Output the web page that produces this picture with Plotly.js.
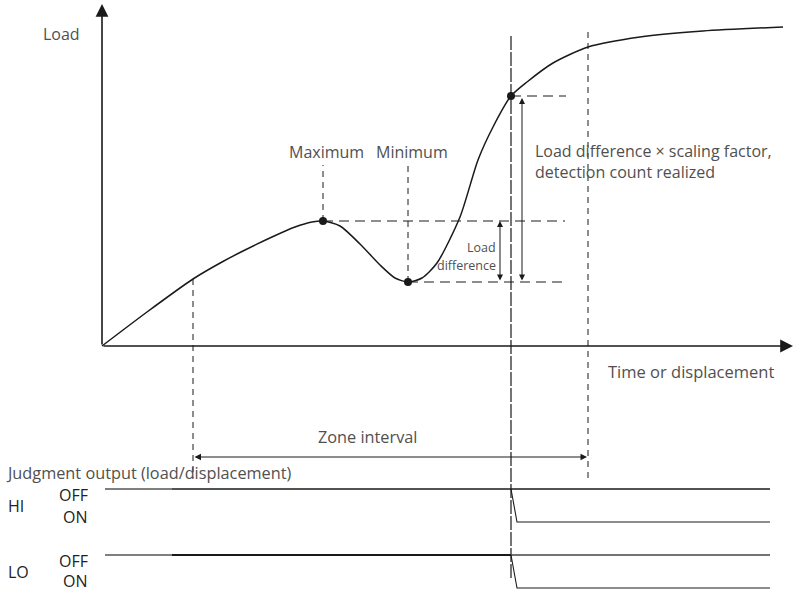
<!DOCTYPE html>
<html>
<head>
<meta charset="utf-8">
<script src="https://cdn.plot.ly/plotly-3.0.1.min.js"></script>
<style>html,body{margin:0;padding:0;background:#fff;}#chart{width:793px;height:592px;}</style>
</head>
<body>
<div id="chart"></div>
<script>
// ---- data (time / load units) ----
const curveT    = [0, 45, 91, 120, 143, 170, 193, 210, 221, 238, 258, 278, 293, 306, 320, 335, 358, 376, 391, 409, 425, 451, 486, 538, 601, 681];
const curveLoad = [0, 34, 67, 84, 96, 109, 119, 124, 125, 120, 102, 81, 68, 64, 68, 83, 129, 186, 219, 250, 264, 283, 299, 309, 315, 319];
const pointNames = ["Maximum", "Minimum", "Detection"];
const pointT     = [221, 306, 409];
const pointLoad  = [125, 64, 250];
const zoneStart = 91;
const zoneEnd   = 486;
const detectT   = 409;
const signalStart = 3;
const signalEnd   = 668;
const signalTransition = 6;   // duration of falling edge
const loActiveFrom = 70;
// signal levels on timing axis
const levelNames = ["LO ON", "LO OFF", "HI ON", "HI OFF"];
const levelValues = [0, 1, 2, 3];

// ---- layout constants ----
const ink = "#1a1a1a";
const txt = "#505050";
const labelTop = 181;
const guideRight = 463;
const vTop = 312;
const zoneBottom = -132;
const detectBottom = -234;
const zoneArrowY = -111;
const diffArrowT = 398;
const bigArrowT = 420;

const traces = [];
function line(x, y, opts) {
  traces.push(Object.assign({type:"scatter", mode:"lines", x:x, y:y, hoverinfo:"skip", showlegend:false,
    line:{color:ink, width:1}}, opts));
}
const maxL = pointLoad[0], minL = pointLoad[1], detL = pointLoad[2];
const maxT = pointT[0], minT = pointT[1];

// guide lines
line([zoneStart, zoneStart], [curveLoad[2], zoneBottom], {line:{color:ink, width:1, dash:"6px,5px"}});
line([maxT, maxT], [maxL, labelTop], {line:{color:ink, width:1, dash:"6px,5px"}});
line([minT, minT], [minL, labelTop], {line:{color:ink, width:1, dash:"6px,5px"}});
line([zoneEnd, zoneEnd], [vTop + 2, zoneBottom - 1], {line:{color:ink, width:1, dash:"6px,5px"}});
line([detectT, detectT], [vTop - 2, detectBottom], {line:{color:ink, width:1.2, dash:"14px,2px"}});
line([maxT, guideRight], [maxL, maxL], {line:{color:ink, width:1, dash:"10px,6px"}});
line([minT, guideRight], [minL, minL], {line:{color:ink, width:1, dash:"10px,6px"}});
line([detectT, guideRight + 1], [detL, detL], {line:{color:ink, width:1, dash:"10px,6px"}});

// load curve
line(curveT, curveLoad, {line:{color:ink, width:1.5, shape:"spline", smoothing:0.7}});
traces.push({type:"scatter", mode:"markers", x:pointT, y:pointLoad, text:pointNames, hoverinfo:"skip", showlegend:false,
  marker:{color:ink, size:8}});

// timing chart (yaxis2)
function sig(x, y, opts) { line(x, y, Object.assign({yaxis:"y2"}, opts)); }
const hiOff = levelValues[3], hiOn = levelValues[2], loOff = levelValues[1], loOn = levelValues[0];
sig([signalStart, loActiveFrom], [hiOff, hiOff], {line:{color:"#555", width:1.3}});
sig([loActiveFrom, signalEnd], [hiOff, hiOff], {line:{color:ink, width:1.3}});
sig([detectT, detectT + signalTransition, signalEnd], [hiOff, hiOn, hiOn], {line:{color:ink, width:1.1}});
sig([signalStart, loActiveFrom], [loOff, loOff], {line:{color:"#555", width:1.3}});
sig([loActiveFrom, detectT], [loOff, loOff], {line:{color:ink, width:2.2}});
sig([detectT, signalEnd], [loOff, loOff], {line:{color:"#444", width:1.3}});
sig([detectT, detectT + signalTransition, signalEnd], [loOff, loOn, loOn], {line:{color:ink, width:1.1}});

const FAM = "Open Sans, Noto Sans, sans-serif";
const F = {family:FAM, size:16, color:txt};
const FD = {family:FAM, size:16, color:"#222"};
function fs(size) { return {family:FAM, size:size, color:txt}; }
function note(x, y, text, o) {
  return Object.assign({x:x, y:y, text:text, showarrow:false, xref:"x", yref:"y", font:F, borderpad:0}, o);
}
function arrow(x, y, ax, ay, o) {
  return Object.assign({x:x, y:y, ax:ax, ay:ay, xref:"x", yref:"y", axref:"x", ayref:"y", text:"",
    showarrow:true, arrowcolor:ink, arrowwidth:1, arrowhead:2, arrowsize:1, standoff:0, startstandoff:0}, o);
}

const annotations = [
  // axes
  arrow(0, 342, 0, 0, {arrowwidth:1.6, arrowsize:1.6, arrowhead:2}),
  arrow(691, 0, 0, 0, {arrowwidth:1.6, arrowsize:1.6, arrowhead:2}),
  // double arrows
  arrow(diffArrowT, maxL, diffArrowT, minL, {arrowside:"end+start", arrowhead:2, arrowsize:1.2}),
  arrow(bigArrowT, detL - 2, bigArrowT, minL, {arrowside:"end+start", arrowhead:2, arrowsize:1.2}),
  arrow(zoneEnd - 1, zoneArrowY, zoneStart, zoneArrowY, {arrowside:"end+start", arrowhead:2, arrowsize:1.3}),
  // labels
  note(-41, 312, "Load"),
  note(maxT + 3, 194, pointNames[0]),
  note(minT + 4, 194, pointNames[1]),
  note(395, 99, "Load", {xanchor:"right", font:fs(12.5)}),
  note(395, 81, "difference", {xanchor:"right", font:fs(12.5)}),
  note(432, 195, "Load difference × scaling factor,", {xanchor:"left"}),
  note(432, 174, "detection count realized", {xanchor:"left"}),
  note(505, -25, "Time or displacement", {xanchor:"left", font:fs(16.5)}),
  note(265, -91, "Zone interval", {font:fs(16.3)}),
  note(-97, -127, "Judgment output (load/displacement)", {xanchor:"left", font:fs(16.3)}),
  note(-95, 2.48, "HI", {yref:"y2", xanchor:"left", font:FD}),
  note(-13, 2.82, "OFF", {yref:"y2", xanchor:"right", font:FD}),
  note(-13, 2.15, "ON", {yref:"y2", xanchor:"right", font:FD}),
  note(-95, 0.48, "LO", {yref:"y2", xanchor:"left", font:FD}),
  note(-13, 0.82, "OFF", {yref:"y2", xanchor:"right", font:FD}),
  note(-13, 0.22, "ON", {yref:"y2", xanchor:"right", font:FD})
];

const layout = {
  width:793, height:592,
  margin:{l:0, r:0, t:0, b:0},
  paper_bgcolor:"#fff", plot_bgcolor:"#fff",
  xaxis:{range:[-102, 691], visible:false, fixedrange:true},
  yaxis:{range:[-246, 346], visible:false, fixedrange:true},
  yaxis2:{range:[-4/33, 588/33], overlaying:"y", visible:false, fixedrange:true},
  annotations:annotations,
  showlegend:false
};
Plotly.newPlot("chart", traces, layout, {staticPlot:true, displayModeBar:false});
</script>
</body>
</html>
